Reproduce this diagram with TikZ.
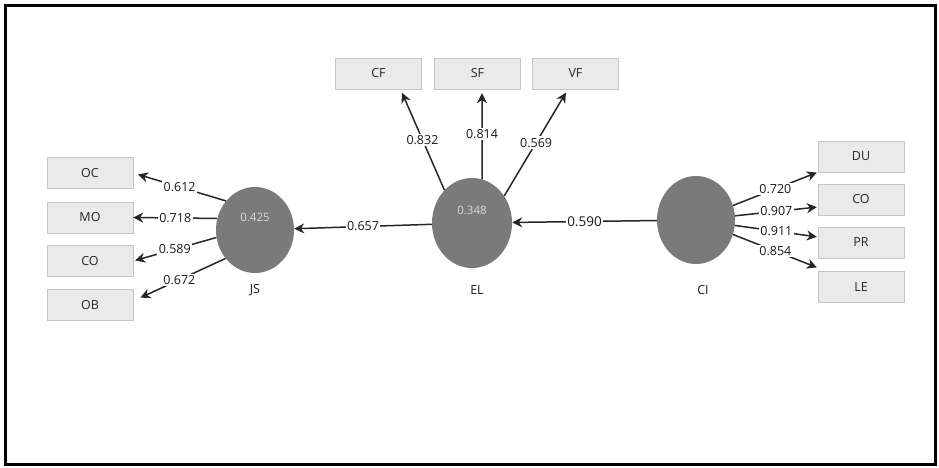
\documentclass[tikz,border=0pt]{standalone}
\usepackage{fontspec}
\setmainfont{Open Sans}
\usetikzlibrary{shapes.geometric, arrows.meta, positioning, calc}

\definecolor{boxfill}{RGB}{234,234,234}
\definecolor{boxline}{RGB}{198,198,198}
\definecolor{lvfill}{RGB}{122,122,122}

\begin{document}
\begin{tikzpicture}[x=1pt, y=-1pt,
    indicator/.style={
        rectangle, draw=boxline, fill=boxfill,
        minimum width=86pt, minimum height=31pt, inner sep=0pt,
        font=\fontsize{12.5}{14}\selectfont, text=black!85
    },
    latent/.style={
        ellipse, fill=lvfill, inner sep=0pt
    },
    rsq/.style={font=\fontsize{11.5}{13}\selectfont, text=black!15},
    lvname/.style={font=\fontsize{12.5}{14}\selectfont, text=black!90},
    coef/.style={fill=white, inner sep=1.5pt, font=\fontsize{12.5}{14}\selectfont, text=black!90},
    arr/.style={-{Stealth[length=10pt, width=10pt]}, line width=1.5pt, draw=black!85},
]

\useasboundingbox (0,0) rectangle (939,468);
\draw[line width=3pt] (5.5,5.5) rectangle (935.5,464.5);

% Latent variables
\node[latent, minimum width=78pt, minimum height=86pt] (js) at (255,230) {};
\node[latent, minimum width=80pt, minimum height=90pt] (el) at (472,223) {};
\node[latent, minimum width=78pt, minimum height=88pt] (ci) at (696,220) {};

\node[rsq] (jsr2) at (255,217) {0.425};
\node[rsq] (elr2) at (472,210) {0.348};

\node[lvname] (jsname) at (255,290) {JS};
\node[lvname] (elname) at (477,290) {EL};
\node[lvname] (ciname) at (703,290) {CI};

% ============ JS indicators (LEFT) ============
\node[indicator] (oc) at (90,173) {OC};
\node[indicator] (mo) at (90,217.5) {MO};
\node[indicator] (col) at (90,261) {CO};
\node[indicator] (ob) at (90,305) {OB};

% ============ EL indicators (TOP) ============
\node[indicator] (cf) at (378.5,73.5) {CF};
\node[indicator] (sf) at (477.5,73.5) {SF};
\node[indicator] (vf) at (575.5,73.5) {VF};

% ============ CI indicators (RIGHT) ============
\node[indicator] (du) at (861,156.5) {DU};
\node[indicator] (cor) at (861,199.5) {CO};
\node[indicator] (pr) at (861,242.5) {PR};
\node[indicator] (le) at (861,287) {LE};

% ============ Arrows ============
% JS loadings
\draw[arr, shorten >=5pt] (js.135) -- node[coef] {0.612} (oc.east);
\draw[arr] (js.163) -- node[coef] {0.718} (mo.east);
\draw[arr, shorten >=2pt] (js.191) -- node[coef] {0.589} (col.east);
\draw[arr, shorten >=8pt] (js.224) -- node[coef] {0.672} ([yshift=4pt]ob.east);

% EL loadings
\draw[arr, shorten >=4pt] (el.130) -- node[coef] {0.832} ([xshift=22pt]cf.south);
\draw[arr, shorten >=4pt] (el.77) -- node[coef] {0.814} ([xshift=4.5pt]sf.south);
\draw[arr, shorten >=4pt] (el.40) -- node[coef] {0.569} ([xshift=-7.5pt]vf.south);

% CI loadings
\draw[arr, shorten >=1pt] (ci) -- node[coef] {0.720} (du.south west);
\draw[arr, shorten >=1pt] (ci) -- node[coef] {0.907} ([yshift=-7.5pt]cor.west);
\draw[arr, shorten >=1pt] (ci) -- node[coef] {0.911} ([yshift=5.5pt]pr.west);
\draw[arr, shorten >=1pt] (ci) -- node[coef] {0.854} ([yshift=3.5pt]le.north west);

% Paths
\draw[arr] (el) -- node[coef] {0.657} (js);
\draw[arr] (ci) -- node[coef, font=\fontsize{13.5}{15}\selectfont] {0.590} (el);

\end{tikzpicture}
\end{document}
